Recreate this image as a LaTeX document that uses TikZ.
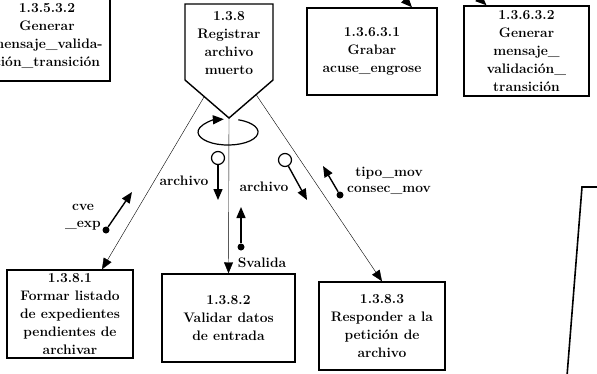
\documentclass[tikz,border=0pt]{standalone}
\usepackage{amsmath,amsfonts}
\usepackage{tikz}
\usetikzlibrary{arrows.meta}

\begin{document}
\begin{tikzpicture}[x=1pt,y=-1pt,
    >={Triangle[length=11pt,width=9pt]},
    cnode/.style={draw,line width=1.4pt,rectangle,align=center,inner sep=0pt,
        font=\fontsize{13.8}{18}\selectfont\bfseries},
    lbl/.style={inner sep=0pt,font=\fontsize{13.8}{14}\selectfont\bfseries},
    flow/.style={->,thin},
    couple/.style={->,line width=1.4pt},
    ocirc/.style={draw,line width=1.2pt,circle,minimum size=13pt,inner sep=0pt},
    fcirc/.style={fill,circle,minimum size=7pt,inner sep=0pt}]
    \clip (0,0) rectangle (597,373);

    % top row
    \node[cnode,minimum width=126pt,minimum height=90pt] (g0) at (47,36)
        {1.3.5.3.2\\Generar\\mensaje\_valida-\\ción\_transición};
    \node[cnode,minimum width=130pt,minimum height=87pt] (g1) at (372,51.5)
        {1.3.6.3.1\\Grabar\\acuse\_engrose};
    \node[cnode,minimum width=125pt,minimum height=90pt] (g2) at (526.5,51)
        {1.3.6.3.2\\Generar\\mensaje\_\\validación\_\\transición};
    \coordinate (t1) at (392,-14);
    \coordinate (t2) at (466,-14);
    \draw[couple] (t1) -- ([xshift=40pt]g1.north) ;
    \draw[couple] (t2) -- ([xshift=-40pt]g2.north) ;

    % 1.3.8
    \draw[line width=1.4pt] (185,4) -- (273,4) -- (273,80) -- (229,118) -- (185,80) -- cycle;
    \node[cnode,draw=none] (p) at (229,43) {1.3.8\\Registrar\\archivo\\muerto};
    \coordinate (pB) at (229,118);
    \coordinate (pL) at (204,97);
    \coordinate (pR) at (256,94.5);

    % bottom row
    \node[cnode,minimum width=126pt,minimum height=88pt] (1) at (70,314)
        {1.3.8.1\\Formar listado\\de expedientes\\pendientes de\\archivar};
    \node[cnode,minimum width=133pt,minimum height=88pt] (2) at (228.5,318)
        {1.3.8.2\\Validar datos\\de entrada};
    \node[cnode,minimum width=126pt,minimum height=88pt] (3) at (382,326)
        {1.3.8.3\\Responder a la\\petición de\\archivo};

    \draw[flow] (pL) -- ([xshift=32pt]1.north) ;
    \draw[flow] (pB) -- (2.north) ;
    \draw[flow] (pR) -- (3.north) ;

    % loop
    \coordinate (lp) at (238.3,119.8);
    \draw[->,line width=1.2pt] (lp) arc[start angle=-70,end angle=262,x radius=30,y radius=13];

    % couples
    \node[ocirc] (c1) at (218,158) {};
    \coordinate (c1e) at (218,200);
    \node[ocirc] (c2) at (285,160) {};
    \coordinate (c2e) at (307,200);
    \node[fcirc] (c3) at (241,247) {};
    \coordinate (c3e) at (241,207);
    \node[fcirc] (c4) at (340,195) {};
    \coordinate (c4e) at (323,166);
    \node[fcirc] (c5) at (106,230) {};
    \coordinate (c5e) at (132,192);

    \draw[couple] (c1) edge (c1e) ;
    \draw[couple] (c2) edge (c2e) ;
    \draw[couple] (c3) edge (c3e) ;
    \draw[couple] (c4) edge (c4e) ;
    \draw[couple] (c5) edge (c5e) ;

    \node[lbl] (l1) at (184,181) {archivo};
    \node[lbl] (l2) at (264,187) {archivo};
    \node[lbl] (l3) at (262,263) {Svalida};
    \node[lbl] (l4) at (389,173) {tipo\_mov};
    \node[lbl] (l5) at (389,190) {consec\_mov};
    \node[lbl] (l6) at (83,207) {cve};
    \node[lbl] (l7) at (83,226) {\_exp};

    % stamp edge
    \draw[line width=1.6pt] (600,187) -- (582,187) -- (567,376);
\end{tikzpicture}
\end{document}
